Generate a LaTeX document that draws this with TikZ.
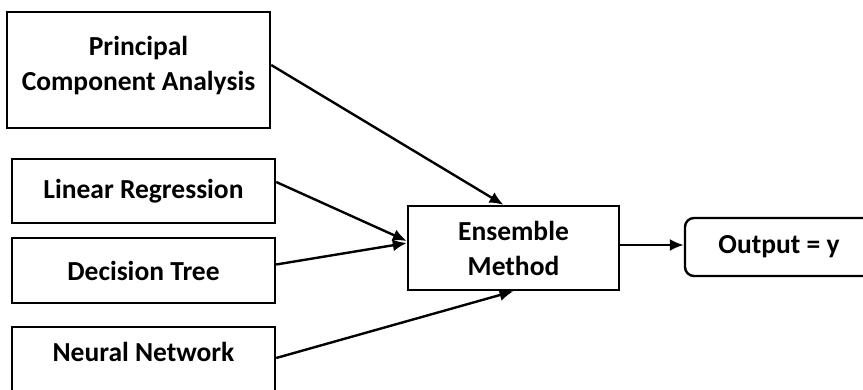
\documentclass[tikz,border=0pt]{standalone}
\usepackage{fontspec}
\setmainfont{Carlito}
\usetikzlibrary{arrows.meta}

\tikzset{
	block/.style={shape=rectangle, draw=black, line width=2.4pt, align=center, font=\fontsize{27.5}{35}\selectfont\bfseries},
	link/.style={-{Latex[length=14pt,width=12pt]}, line width=2.4pt}
}

\begin{document}
\begin{tikzpicture}[x=1pt, y=-1pt]
	\path[use as bounding box, clip] (0,0) rectangle (863,390);

	\node[block, minimum width=263pt, minimum height=116pt] (pca) at (138.5,70)  {Principal\\Component Analysis\\[-22pt]\mbox{}};
	\node[block, minimum width=263pt, minimum height=64pt]  (lr)  at (143.5,191) {Linear Regression};
	\node[block, minimum width=263pt, minimum height=65pt]  (dt)  at (143.5,270.5) {Decision Tree};
	\node[block, minimum width=263pt, inner ysep=0pt, text height=35pt, text depth=39pt, anchor=base] (nn) at (143.5,362) {Neural Network};
	\node[block, minimum width=211pt, minimum height=84pt]  (ens) at (513.5,248) {Ensemble\\Method};
	\node[block, rounded corners=9pt, minimum width=188pt, minimum height=58pt] (out) at (779,247) {Output = y};

	\path [link] ([yshift=5]pca.east) edge ([xshift=-10]ens.north);
	\path [link] ([yshift=9]lr.east)  edge ([yshift=7]ens.west);
	\path [link] ([yshift=6]dt.east)  edge ([yshift=5]ens.west);
	\path [link] ([yshift=6]nn.east)  edge (ens.south);
	\path [link] ([yshift=3]ens.east) edge ([yshift=2]out.west);
\end{tikzpicture}
\end{document}
